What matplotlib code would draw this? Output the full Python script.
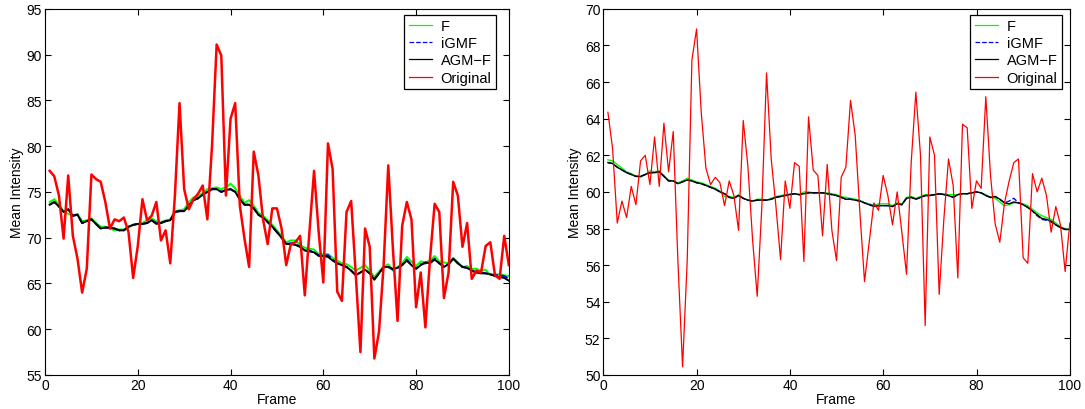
import matplotlib
matplotlib.use('Agg')
import matplotlib.pyplot as plt
import numpy as np

plt.rcParams['font.family'] = ['Liberation Sans', 'DejaVu Sans']

frames = np.arange(1, 101)

# left panel
orig_a = [77.3, 76.7, 74.6, 69.9, 76.8, 70.2, 67.7, 64.0, 66.6, 76.9,
          76.4, 76.1, 73.9, 71.0, 72.0, 71.8, 72.2, 70.6, 65.6, 69.1,
          74.2, 71.9, 72.4, 73.9, 69.7, 70.8, 67.2, 74.6, 84.7, 75.3,
          73.1, 74.2, 74.8, 75.7, 72.0, 80.0, 91.1, 89.9, 74.6, 83.0,
          84.7, 73.5, 69.9, 66.8, 79.4, 76.8, 72.0, 69.3, 73.2, 73.2,
          71.0, 67.0, 69.3, 69.5, 70.2, 63.7, 70.6, 77.3, 70.6, 65.1,
          80.3, 77.5, 64.1, 63.1, 72.8, 74.0, 65.9, 57.5, 71.0, 69.0,
          56.8, 59.7, 67.0, 77.9, 68.8, 60.9, 71.3, 73.9, 72.0, 62.4,
          66.2, 60.2, 67.7, 73.7, 72.8, 63.4, 66.2, 76.1, 74.6, 69.0,
          71.6, 65.5, 66.4, 66.2, 69.1, 69.5, 65.9, 65.5, 70.2, 67.0]
agm_a = [73.6, 73.9, 73.4, 72.8, 73.1, 72.4, 72.5, 71.6, 71.8, 72.0,
         71.5, 71.0, 71.1, 71.1, 71.0, 70.8, 70.8, 71.2, 71.4, 71.5,
         71.5, 71.6, 71.9, 71.5, 71.6, 71.8, 71.9, 72.8, 72.9, 72.9,
         73.5, 74.1, 74.3, 74.7, 75.0, 75.3, 75.3, 75.0, 75.2, 75.3,
         75.0, 74.2, 73.6, 73.6, 73.2, 72.5, 72.2, 71.7, 71.2, 70.6,
         70.0, 69.3, 69.3, 69.2, 69.0, 68.6, 68.5, 68.4, 68.0, 68.0,
         67.9, 67.5, 67.2, 67.0, 66.8, 66.4, 65.9, 66.2, 66.5, 66.1,
         65.4, 66.1, 66.8, 66.8, 66.6, 66.7, 67.0, 67.5, 67.0, 66.6,
         67.0, 67.3, 67.2, 67.6, 67.2, 66.8, 67.1, 67.7, 67.2, 66.8,
         66.7, 66.4, 66.2, 66.1, 66.1, 66.0, 65.8, 65.7, 65.6, 65.3]
igmf_a = [73.6, 73.9, 73.4, 72.8, 73.1, 72.4, 72.5, 71.6, 71.8, 72.0,
          71.5, 71.0, 71.1, 71.1, 71.0, 70.8, 70.8, 71.2, 71.4, 71.5,
          71.5, 71.6, 71.9, 71.6, 71.6, 71.8, 71.9, 72.8, 72.9, 72.9,
          73.5, 74.1, 74.3, 74.7, 75.0, 75.3, 75.3, 75.0, 75.2, 75.3,
          75.0, 74.2, 73.6, 73.6, 73.2, 72.5, 72.2, 71.7, 71.2, 70.6,
          70.0, 69.3, 69.4, 69.3, 69.0, 68.6, 68.6, 68.4, 68.1, 68.0,
          68.1, 67.6, 67.2, 67.0, 66.8, 66.4, 65.9, 66.2, 66.5, 66.1,
          65.5, 66.1, 66.8, 66.8, 66.5, 66.7, 67.0, 67.6, 67.0, 66.6,
          67.1, 67.2, 67.3, 67.7, 67.2, 66.9, 67.1, 67.7, 67.2, 66.8,
          66.7, 66.4, 66.2, 66.2, 66.1, 66.0, 65.9, 65.9, 65.8, 65.5]
f_a = [73.9, 74.2, 73.6, 72.9, 72.6, 72.4, 72.6, 71.8, 71.9, 72.1,
       71.6, 71.2, 71.2, 71.0, 70.8, 70.9, 70.9, 71.1, 71.4, 71.5,
       71.6, 71.9, 72.1, 71.8, 71.7, 71.9, 72.0, 72.9, 73.0, 73.1,
       73.9, 74.4, 74.5, 74.9, 75.3, 75.4, 75.5, 75.3, 75.5, 75.9,
       75.4, 74.6, 73.8, 74.1, 73.5, 72.7, 72.4, 71.9, 71.4, 70.8,
       70.2, 69.5, 69.7, 69.7, 69.2, 68.9, 68.8, 68.7, 68.2, 68.2,
       68.2, 67.8, 67.5, 67.2, 67.1, 66.8, 66.4, 66.7, 67.0, 66.4,
       65.7, 66.3, 66.8, 67.1, 66.4, 66.8, 67.2, 67.9, 67.4, 66.9,
       67.4, 67.3, 67.5, 68.0, 67.4, 67.3, 67.2, 67.8, 67.3, 66.8,
       66.9, 66.6, 66.6, 66.4, 66.5, 65.9, 66.0, 66.0, 65.9, 65.8]

# right panel
orig_b = [64.35, 62.35, 58.3, 59.5, 58.6, 60.3, 59.3, 61.7, 62.0, 60.4,
          63.0, 60.3, 63.75, 61.1, 63.3, 56.2, 50.45, 56.3, 67.2, 68.9,
          64.35, 61.3, 60.4, 60.8, 60.5, 59.25, 60.6, 59.8, 57.9, 63.9,
          61.4, 57.4, 54.3, 59.25, 66.5, 61.8, 59.25, 56.3, 60.6, 59.1,
          61.6, 61.4, 56.2, 64.1, 61.2, 60.9, 57.6, 61.5, 57.9, 56.25,
          60.8, 61.35, 65.0, 63.1, 58.9, 55.1, 57.25, 59.4, 59.0, 60.9,
          59.8, 58.2, 60.0, 57.8, 55.5, 61.6, 65.45, 62.0, 52.7, 63.0,
          62.0, 54.4, 58.5, 61.8, 60.35, 55.3, 63.7, 63.5, 59.1, 60.6,
          60.2, 65.2, 60.9, 58.25, 57.25, 59.4, 60.6, 61.6, 61.8, 56.4,
          56.1, 61.0, 60.0, 60.75, 59.8, 57.8, 59.2, 58.2, 55.65, 58.3]
agm_b = [61.6, 61.55, 61.35, 61.2, 61.05, 60.95, 60.85, 60.85, 60.95, 61.05,
         61.05, 61.1, 60.85, 60.6, 60.6, 60.45, 60.55, 60.65, 60.6, 60.5,
         60.45, 60.35, 60.25, 60.15, 60.0, 59.9, 59.7, 59.65, 59.8, 59.65,
         59.55, 59.5, 59.55, 59.55, 59.55, 59.6, 59.7, 59.75, 59.8, 59.85,
         59.9, 59.85, 59.9, 59.95, 59.95, 59.95, 59.95, 59.9, 59.85, 59.8,
         59.7, 59.6, 59.6, 59.55, 59.5, 59.4, 59.3, 59.2, 59.25, 59.25,
         59.25, 59.2, 59.35, 59.3, 59.65, 59.7, 59.6, 59.7, 59.8, 59.8,
         59.85, 59.9, 59.85, 59.8, 59.7, 59.85, 59.9, 59.9, 59.95, 60.0,
         59.95, 59.8, 59.7, 59.75, 59.6, 59.4, 59.35, 59.45, 59.4, 59.3,
         59.15, 58.95, 58.75, 58.55, 58.5, 58.4, 58.2, 58.05, 57.95, 57.95]
igmf_b = [61.6, 61.55, 61.35, 61.2, 61.05, 60.95, 60.85, 60.85, 60.95, 61.05,
          61.05, 61.1, 60.85, 60.6, 60.6, 60.45, 60.55, 60.65, 60.6, 60.5,
          60.45, 60.35, 60.25, 60.15, 60.0, 59.9, 59.7, 59.65, 59.8, 59.65,
          59.55, 59.5, 59.55, 59.55, 59.55, 59.6, 59.7, 59.75, 59.8, 59.85,
          59.9, 59.85, 59.9, 59.95, 59.95, 59.95, 59.95, 59.9, 59.85, 59.8,
          59.7, 59.6, 59.6, 59.55, 59.5, 59.4, 59.3, 59.25, 59.25, 59.25,
          59.25, 59.2, 59.35, 59.3, 59.65, 59.7, 59.6, 59.7, 59.8, 59.8,
          59.85, 59.9, 59.85, 59.8, 59.7, 59.85, 59.9, 59.9, 59.95, 60.0,
          59.95, 59.8, 59.7, 59.75, 59.6, 59.4, 59.5, 59.65, 59.4, 59.3,
          59.15, 58.95, 58.7, 58.5, 58.45, 58.35, 58.2, 58.05, 57.95, 57.95]
f_b = [61.75, 61.7, 61.5, 61.3, 61.1, 61.0, 60.85, 60.8, 60.95, 61.15,
       61.1, 61.15, 60.9, 60.65, 60.6, 60.5, 60.6, 60.75, 60.65, 60.55,
       60.5, 60.4, 60.3, 60.2, 60.05, 59.75, 59.75, 59.7, 59.85, 59.65,
       59.55, 59.5, 59.6, 59.6, 59.55, 59.65, 59.75, 59.8, 59.85, 59.9,
       59.9, 59.85, 60.0, 60.0, 59.95, 59.95, 59.95, 59.95, 59.9, 59.85,
       59.75, 59.7, 59.65, 59.6, 59.55, 59.4, 59.35, 59.25, 59.35, 59.35,
       59.35, 59.25, 59.4, 59.35, 59.7, 59.75, 59.65, 59.75, 59.85, 59.85,
       59.85, 59.9, 59.9, 59.85, 59.85, 59.85, 59.9, 59.9, 59.95, 60.0,
       59.95, 59.85, 59.7, 59.65, 59.45, 59.25, 59.3, 59.4, 59.4, 59.35,
       59.25, 59.05, 58.85, 58.7, 58.6, 58.5, 58.3, 58.1, 58.0, 57.95]

fig = plt.figure(figsize=(10.85, 4.1), dpi=100)
ax1 = fig.add_axes([0.0415, 0.083, 0.4275, 0.893])
ax2 = fig.add_axes([0.556, 0.083, 0.43, 0.893])


def draw(ax, f, igmf, agm, orig, lw_s, lw_o, ylim, yticks, leg_x):
    ax.plot(frames, f, color=(0, 1, 0), lw=lw_s, label='F')
    ax.plot(frames, igmf, color=(0, 0, 1), lw=lw_s, ls='--', label='iGMF')
    ax.plot(frames, agm, color='k', lw=lw_s, label='AGM\u2212F')
    ax.plot(frames, orig, color=(1, 0, 0), lw=lw_o, label='Original')
    ax.set_xlim(0, 100)
    ax.set_ylim(*ylim)
    ax.set_xticks([0, 20, 40, 60, 80, 100])
    ax.set_yticks(yticks)
    ax.tick_params(direction='in', top=True, right=True, labelsize=10,
                   length=4, pad=2)
    ax.set_xlabel('Frame', fontsize=10, labelpad=0)
    ax.set_ylabel('Mean Intensity', fontsize=10, labelpad=2)
    leg = ax.legend(loc='upper right', bbox_to_anchor=(leg_x, 0.984),
                    borderaxespad=0, fontsize=10.5, fancybox=False,
                    edgecolor='k', framealpha=1, handlelength=1.6,
                    handletextpad=0.6, labelspacing=0.22, borderpad=0.3)
    leg.get_frame().set_linewidth(0.9)
    for h in leg.get_lines():
        h.set_linewidth(0.9)


draw(ax1, f_a, igmf_a, agm_a, orig_a, 1.4, 1.8, (55, 95),
     np.arange(55, 96, 5), 0.972)
draw(ax2, f_b, igmf_b, agm_b, orig_b, 1.0, 0.9, (50, 70),
     np.arange(50, 71, 2), 0.983)

fig.savefig('out.png', dpi=100)
